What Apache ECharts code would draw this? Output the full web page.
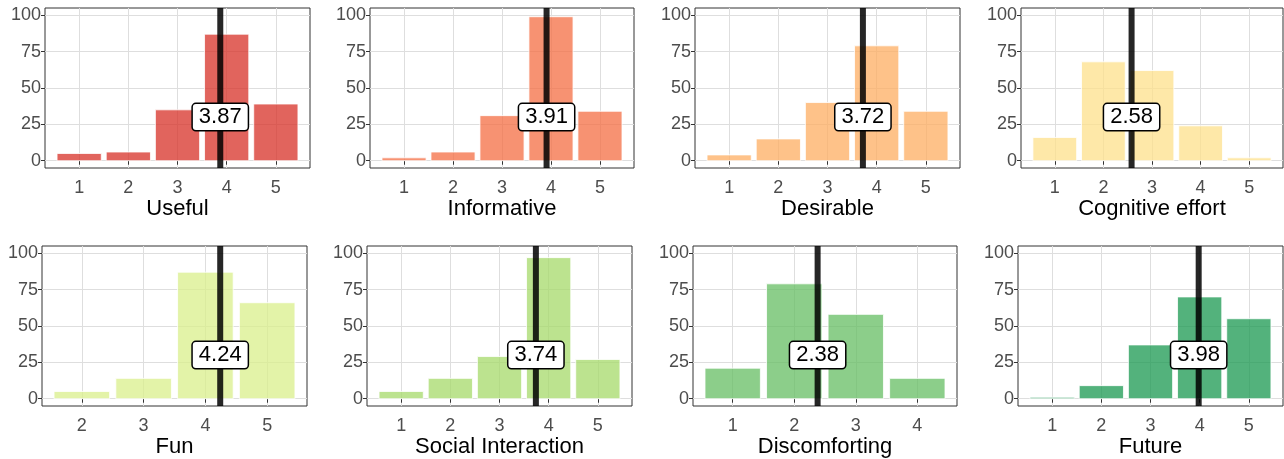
<!DOCTYPE html>
<html>
<head>
<meta charset="utf-8">
<script src="https://cdn.jsdelivr.net/npm/echarts@6/dist/echarts.min.js"></script>
<style>
html,body{margin:0;padding:0;background:#fff;}
#c{width:1284px;height:459px;}
</style>
</head>
<body>
<div id="c"></div>
<script>
// ---- data ----
const titles = ["Useful", "Informative", "Desirable", "Cognitive effort", "Fun", "Social Interaction", "Discomforting", "Future"];
const ratings = [
  [1, 2, 3, 4, 5],
  [1, 2, 3, 4, 5],
  [1, 2, 3, 4, 5],
  [1, 2, 3, 4, 5],
  [2, 3, 4, 5],
  [1, 2, 3, 4, 5],
  [1, 2, 3, 4],
  [1, 2, 3, 4, 5]
];
const counts = [
  [5, 6, 35, 87, 39],
  [2, 6, 31, 99, 34],
  [4, 15, 40, 79, 34],
  [16, 68, 62, 24, 2],
  [5, 14, 87, 66],
  [5, 14, 29, 97, 27],
  [21, 79, 58, 14],
  [1, 9, 37, 70, 55]
];
const means = [3.87, 3.91, 3.72, 2.58, 4.24, 3.74, 2.38, 3.98];
const yTicks = [0, 25, 50, 75, 100];
const labelY = 30;

// ---- style ----
const palette = ["rgba(215,48,39,0.75)", "rgba(244,109,67,0.75)", "rgba(253,174,97,0.75)", "rgba(254,224,139,0.75)",
                 "rgba(217,239,139,0.75)", "rgba(166,217,106,0.75)", "rgba(102,189,99,0.75)", "rgba(26,152,80,0.75)"];
const gridBoxes = [
  {left: 45, top: 8, width: 265, height: 160},
  {left: 370, top: 8, width: 264, height: 160},
  {left: 695, top: 8, width: 265, height: 160},
  {left: 1021, top: 8, width: 262, height: 160},
  {left: 42, top: 246, width: 265, height: 160},
  {left: 367, top: 246, width: 265, height: 160},
  {left: 693, top: 246, width: 264, height: 160},
  {left: 1018, top: 246, width: 265, height: 160}
];
const FONT = "'Liberation Sans', Arial, sans-serif";

const grids = [], xAxes = [], yAxes = [], series = [];
titles.forEach((t, i) => {
  const r = ratings[i];
  const lo = r[0] - 0.45, hi = r[r.length - 1] + 0.45;
  const pad = (hi - lo) * 0.05;
  grids.push(Object.assign({show: true, borderColor: '#333333', borderWidth: 1, backgroundColor: '#ffffff'}, gridBoxes[i]));
  xAxes.push({
    type: 'value', gridIndex: i, min: lo - pad, max: hi + pad,
    name: t, nameLocation: 'middle', nameGap: 30,
    nameTextStyle: {fontFamily: FONT, fontSize: 22, color: '#000'},
    axisLine: {show: false},
    axisTick: {show: true, length: 4, lineStyle: {color: '#333'}, customValues: r},
    axisLabel: {show: true, margin: 11, fontFamily: FONT, fontSize: 18, color: '#4d4d4d', customValues: r},
    splitLine: {show: true, lineStyle: {color: '#dedede', width: 1}}
  });
  yAxes.push({
    type: 'value', gridIndex: i, min: -5, max: 105,
    axisLine: {show: false},
    axisTick: {show: true, length: 4, lineStyle: {color: '#333'}, customValues: yTicks},
    axisLabel: {show: true, margin: 4, fontFamily: FONT, fontSize: 18, color: '#4d4d4d', customValues: yTicks},
    splitLine: {show: true, lineStyle: {color: '#dedede', width: 1}}
  });
  const color = palette[i];
  series.push({
    type: 'custom', xAxisIndex: i, yAxisIndex: i, z: 2,
    data: r.map((x, k) => [x, counts[i][k]]),
    encode: {x: 0, y: 1},
    renderItem: function (params, api) {
      const x = api.value(0), y = api.value(1);
      const p0 = api.coord([x - 0.45, 0]);
      const p1 = api.coord([x + 0.45, y]);
      return {
        type: 'rect',
        shape: {x: p0[0], y: p1[1], width: p1[0] - p0[0], height: p0[1] - p1[1]},
        style: {fill: color, stroke: 'rgba(255,255,255,0.8)', lineWidth: 1}
      };
    }
  });
  series.push({
    type: 'line', xAxisIndex: i, yAxisIndex: i, z: 3, symbol: 'none', silent: true,
    data: [[means[i], -5], [means[i], 105]],
    lineStyle: {color: 'rgba(0,0,0,0.85)', width: 6}
  });
  series.push({
    type: 'scatter', xAxisIndex: i, yAxisIndex: i, z: 4, symbolSize: 1,
    itemStyle: {color: 'rgba(0,0,0,0)', opacity: 1},
    data: [[means[i], labelY]],
    label: {
      show: true, position: 'inside',
      formatter: means[i].toFixed(2),
      fontFamily: FONT, fontSize: 22, color: '#000', opacity: 1,
      backgroundColor: '#fff', borderColor: '#000', borderWidth: 1.5, borderRadius: 3,
      padding: [3, 6, 1, 6]
    }
  });
});

const chart = echarts.init(document.getElementById('c'), null, {renderer: 'canvas'});
chart.setOption({
  animation: false,
  backgroundColor: '#ffffff',
  grid: grids, xAxis: xAxes, yAxis: yAxes, series: series
});
</script>
</body>
</html>
